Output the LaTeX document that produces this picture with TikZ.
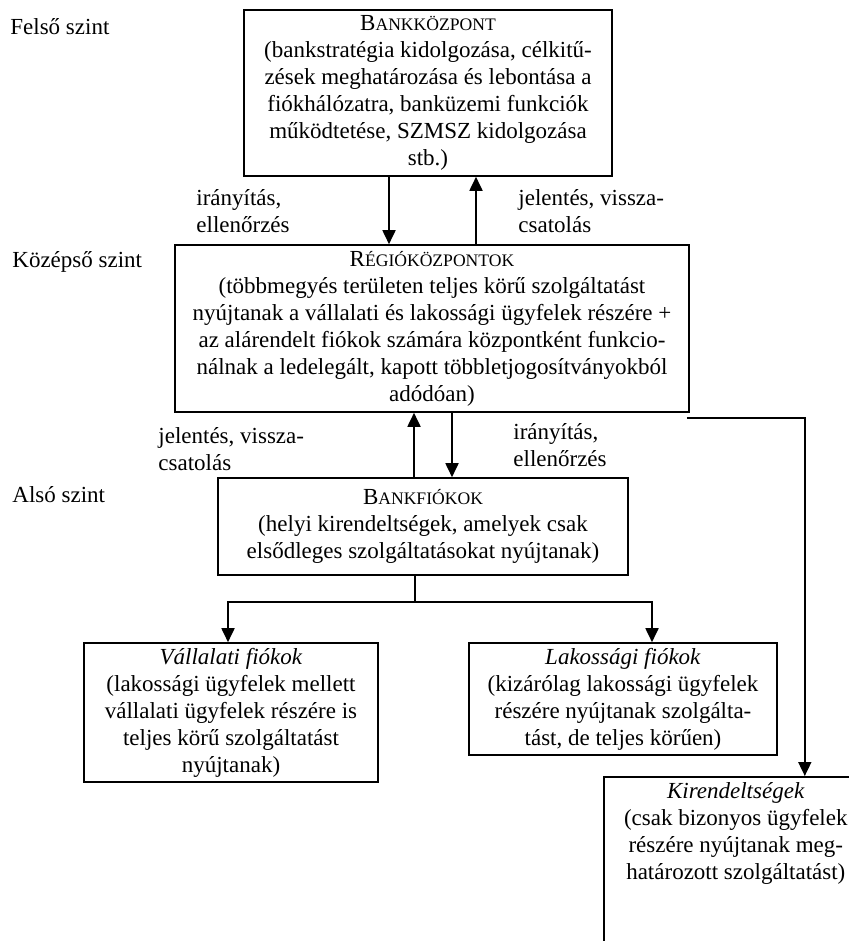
\documentclass[tikz,border=0pt]{standalone}
\usepackage{fontspec}
\setmainfont{Liberation Serif}
\usetikzlibrary{arrows.meta,calc}

\newcommand{\kapitaly}[2]{#1{\fontsize{8.8}{10}\selectfont #2}}

\tikzset{
  doboz/.style={draw, line width=0.8pt, align=center, inner sep=0pt},
  nyil/.style={line width=0.9pt, -{Triangle[length=7pt,width=6.5pt]}},
  vonal/.style={line width=0.9pt},
  szint/.style={anchor=west, inner sep=0pt},
  felirat/.style={anchor=west, align=left, inner sep=0pt},
}

\begin{document}
\begin{tikzpicture}[x=0.5pt, y=-0.5pt, font=\fontsize{11.5}{13.5}\selectfont]
  \useasboundingbox (0,0) rectangle (849,941);
  \clip (0,0) rectangle (849,941);

  % szintek
  \node[szint] (felso)  at (10,27)  {Felső szint};
  \node[szint] (kozepso) at (12,262) {Középső szint};
  \node[szint] (also)   at (12,495) {Alsó szint};

  % dobozok
  \node[doboz, minimum width=184pt, minimum height=83pt] (b1) at (428,93)
    {\kapitaly{B}{ANKKÖZPONT}\\
     (bankstratégia kidolgozása, célkitű-\\
     zések meghatározása és lebontása a\\
     fiókhálózatra, banküzemi funkciók\\
     működtetése, SZMSZ kidolgozása\\
     stb.)};
  \node[doboz, minimum width=257pt, minimum height=83.5pt] (b2) at (432,328.5)
    {\kapitaly{R}{ÉGIÓKÖZPONTOK}\\
     (többmegyés területen teljes körű szolgáltatást\\
     nyújtanak a vállalati és lakossági ügyfelek részére +\\
     az alárendelt fiókok számára központként funkcio-\\
     nálnak a ledelegált, kapott többletjogosítványokból\\
     adódóan)};
  \node[doboz, minimum width=205pt, minimum height=48.5pt] (b3) at (423,526.5)
    {\kapitaly{B}{ANKFIÓKOK}\\
     (helyi kirendeltségek, amelyek csak\\
     elsődleges szolgáltatásokat nyújtanak)};
  \node[doboz, minimum width=147pt, minimum height=69.5pt] (valla) at (231,712.5)
    {\textit{Vállalati fiókok}\\
     (lakossági ügyfelek mellett\\
     vállalati ügyfelek részére is\\
     teljes körű szolgáltatást\\
     nyújtanak)};
  \node[doboz, minimum width=154pt, minimum height=56pt] (laka) at (623,699)
    {\textit{Lakossági fiókok}\\
     (kizárólag lakossági ügyfelek\\
     részére nyújtanak szolgálta-\\
     tást, de teljes körűen)};
  \node[doboz, minimum width=132pt, inner ysep=3pt, anchor=north west] (kir) at (603,776)
    {\textit{Kirendeltségek}\\
     (csak bizonyos ügyfelek\\
     részére nyújtanak meg-\\
     határozott szolgáltatást)\rule[-55pt]{0pt}{0pt}};

  % feliratok a nyilak mellett
  \node[felirat] (ir1) at (196,211) {irányítás,\\ellenőrzés};
  \node[felirat] (je1) at (518,211) {jelentés, vissza-\\csatolás};
  \node[felirat] (je2) at (158,449) {jelentés, vissza-\\csatolás};
  \node[felirat] (ir2) at (513,445) {irányítás,\\ellenőrzés};

  % nyilak
  \draw[nyil] ($(b1.south)+(-39,0)$) coordinate (a1) -- (a1 |- b2.north);
  \draw[nyil] ($(b2.north)+(44,0)$) coordinate (a2) -- (a2 |- b1.south);
  \draw[nyil] ($(b2.south)+(20,0)$) coordinate (a3) -- (a3 |- b3.north);
  \draw[nyil] ($(b3.north)+(-9,0)$) coordinate (a4) -- (a4 |- b2.south);

  \draw[vonal] ($(b3.south)+(-8,0)$) -- ++(0,26) coordinate (elag);
  \draw[nyil] (elag) -| ($(valla.north)+(-3,0)$);
  \draw[nyil] (elag) -| ($(laka.north)+(29,0)$);

  \draw[nyil] ($(b2.south east)+(-3,5)$) -| ($(kir.north)+(69,0)$);
\end{tikzpicture}
\end{document}
